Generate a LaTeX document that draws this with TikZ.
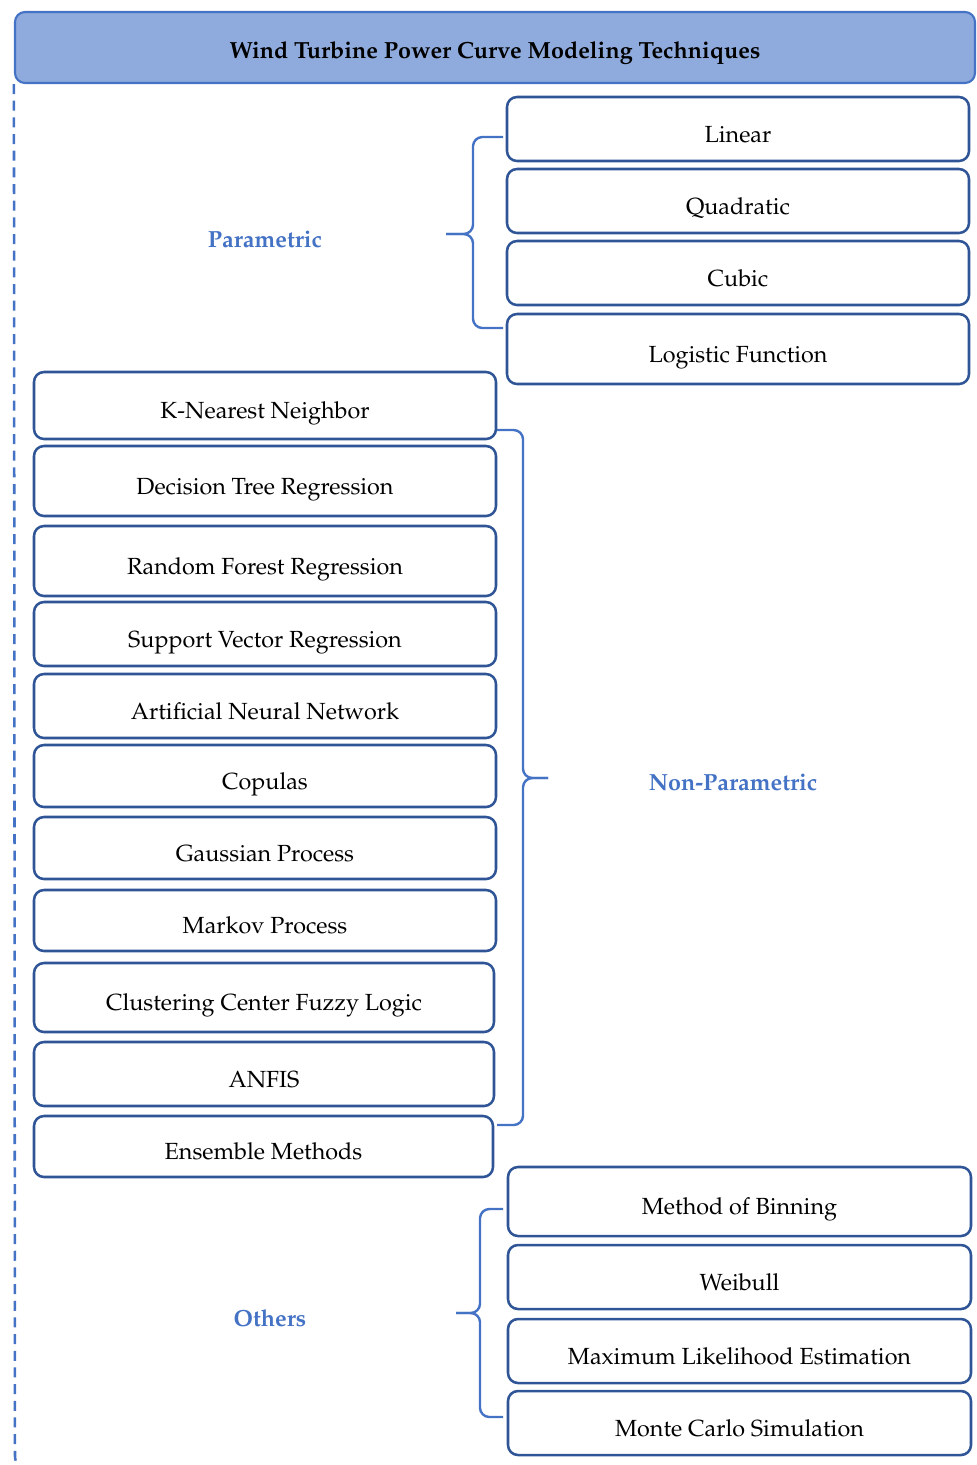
\documentclass[tikz,border=0pt]{standalone}
\usepackage[T1]{fontenc}
\usepackage{mathpazo}
\definecolor{boxblue}{HTML}{2F5597}
\definecolor{lblue}{HTML}{4472C4}
\definecolor{tfill}{HTML}{8FAADC}
\tikzset{
  itembox/.style={draw=boxblue, line width=1.9pt, rounded corners=7.5pt, fill=white,
    font=\fontsize{17.5}{21}\selectfont, text height=21pt, text depth=1.5pt, inner sep=0pt},
  grouplabel/.style={font=\fontsize{17.5}{21}\selectfont\bfseries, text=lblue},
  bracestyle/.style={draw=lblue, line width=1.8pt, rounded corners=7pt},
  titlebox/.style={draw=lblue, fill=tfill, line width=1.6pt, rounded corners=7.5pt,
    font=\fontsize{17.5}{21}\selectfont\bfseries, text height=18pt, text depth=2.2pt, inner sep=0pt},
}
\newcommand{\itemnode}[6]{%
  \node[itembox, minimum width={(#4-#2)*0.75pt}, minimum height={(#5-#3)*0.75pt}]
    (#1) at ({(#2+#4)/2},{(#3+#5)/2}) {#6};}
\begin{document}
\begin{tikzpicture}[x=0.75pt, y=-0.75pt]
\useasboundingbox (0,0) rectangle (977,1465);

% title
\node[titlebox, minimum width={960*0.75pt}, minimum height={71*0.75pt}] (title) at (495,47.5)
  {Wind Turbine Power Curve Modeling Techniques};

% dashed outer frame
\draw[lblue, line width=1.9pt, dash pattern=on 7.5pt off 5pt, rounded corners=12pt]
  (title.south west) -- (15,1472) -- (200,1472);

% parametric
\itemnode{lin}{507}{97}{969}{161}{Linear}
\itemnode{quad}{507}{169}{969}{233}{Quadratic}
\itemnode{cub}{507}{241}{969}{305}{Cubic}
\itemnode{logi}{507}{314}{969}{384}{Logistic Function}

% non-parametric
\itemnode{knn}{34}{372}{496}{439}{K-Nearest Neighbor}
\itemnode{dtr}{34}{446}{496}{516}{Decision Tree Regression}
\itemnode{rfr}{34}{526}{496}{596}{Random Forest Regression}
\itemnode{svr}{34}{602}{496}{666}{Support Vector Regression}
\itemnode{ann}{34}{674}{496}{738}{Artificial Neural Network}
\itemnode{cop}{34}{745}{496}{807}{Copulas}
\itemnode{gp}{34}{817}{496}{879}{Gaussian Process}
\itemnode{mp}{34}{890}{496}{951}{Markov Process}
\itemnode{ccfl}{34}{963}{494}{1032}{Clustering Center Fuzzy Logic}
\itemnode{anfis}{34}{1042}{494}{1106}{ANFIS}
\itemnode{ens}{34}{1116}{493}{1177}{Ensemble Methods}

% others
\itemnode{bin}{508}{1167}{971}{1236}{Method of Binning}
\itemnode{wei}{508}{1245}{971}{1309}{Weibull}
\itemnode{mle}{508}{1319}{971}{1383}{Maximum Likelihood Estimation}
\itemnode{mc}{508}{1391}{971}{1455}{Monte Carlo Simulation}

% group labels
\node[grouplabel] (par) at (265,239) {Parametric};
\node[grouplabel] (npar) at (733,782) {Non-Parametric};
\node[grouplabel] (oth) at (270,1318) {Others};

% braces
\draw[bracestyle] (503,137) -- (473,137) -- (473,234) -- (446,234);
\draw[bracestyle] (446,234) -- (473,234) -- (473,328) -- (503,328);
\draw[bracestyle] (497,430) -- (523,430) -- (523,778) -- (548,778);
\draw[bracestyle] (548,778) -- (523,778) -- (523,1125) -- (497,1125);
\draw[bracestyle] (503,1209) -- (480,1209) -- (480,1313) -- (456,1313);
\draw[bracestyle] (456,1313) -- (480,1313) -- (480,1417) -- (503,1417);
\end{tikzpicture}
\end{document}
